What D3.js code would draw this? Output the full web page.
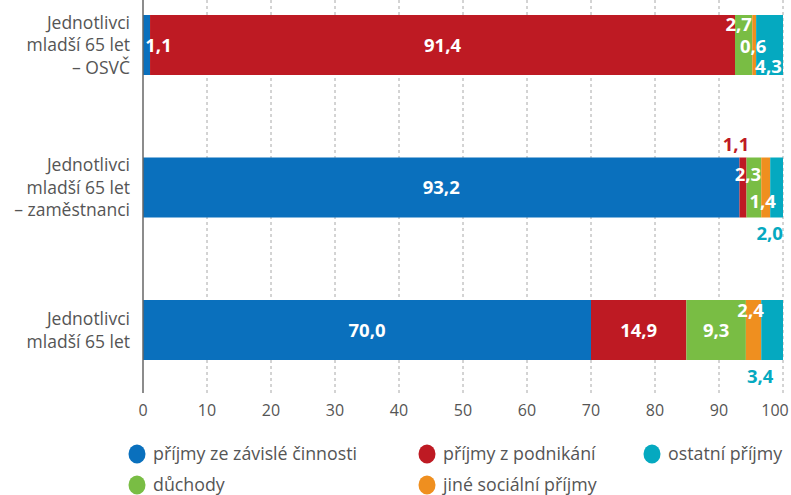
<!DOCTYPE html>
<html>
<head>
<meta charset="utf-8">
<script src="https://d3js.org/d3.v7.min.js"></script>
<style>
  body { margin: 0; background: #fff; }
  text { font-family: "Open Sans", sans-serif; }
</style>
</head>
<body>
<script>

// categories (top to bottom) and series
const categories = [
  ["Jednotlivci", "mladší 65 let", "– OSVČ"],
  ["Jednotlivci", "mladší 65 let", "– zaměstnanci"],
  ["Jednotlivci", "mladší 65 let"]
];
const seriesNames = ["příjmy ze závislé činnosti", "příjmy z podnikání", "důchody", "jiné sociální příjmy", "ostatní příjmy"];
const zavisla   = [1.1, 93.2, 70.0];
const podnikani = [91.4, 1.1, 14.9];
const duchody   = [2.7, 2.3, 9.3];
const jineSoc   = [0.6, 1.4, 2.4];
const ostatni   = [4.3, 2.0, 3.4];
const ticks = [0, 10, 20, 30, 40, 50, 60, 70, 80, 90, 100];

const colors = ["#0a70bd", "#be1a23", "#79bd44", "#ef8f1f", "#05a9c0"];

// label placement for the small segments: [dx, dy, inside/outside] relative to segment centre / bar centre
const labelPlace = [
  [[12, 0, "in"], [0, 0, "in"], [-5, -21, "in"], [-1, 1, "in"], [-1, 21, "in"]],
  [[0, 0, "in"], [-7, -43, "out"], [-6, -13, "in"], [-3, 14, "in"], [-7, 46, "out"]],
  [[0, 0, "in"], [0, 0, "in"], [0, 0, "in"], [-3, -20, "in"], [-12, 46, "out"]]
];

const width = 791, height = 495;
const svg = d3.select("body").append("svg")
  .attr("width", width).attr("height", height);

const x = d3.scaleLinear().domain([0, 100]).range([143, 783]);
const y = d3.scalePoint().domain(d3.range(categories.length)).range([45, 330]);
const barH = 60;
const plotTop = 0, plotBottom = 393;

// gridlines
svg.append("g").selectAll("line")
  .data(ticks.slice(1))
  .join("line")
  .attr("x1", d => x(d)).attr("x2", d => x(d))
  .attr("y1", plotTop).attr("y2", plotBottom)
  .attr("stroke", "#a8a8a8")
  .attr("stroke-dasharray", "3,3");

// tick labels
svg.append("g").selectAll("text")
  .data(ticks)
  .join("text")
  .attr("x", d => Math.min(x(d), 775)).attr("y", 416)
  .attr("text-anchor", "middle")
  .attr("fill", "#555")
  .attr("font-size", 16)
  .text(d => d);

// stacked data
const rows = categories.map((c, i) => [zavisla[i], podnikani[i], duchody[i], jineSoc[i], ostatni[i]]);

const bars = svg.append("g");
rows.forEach((vals, i) => {
  let acc = 0;
  const segs = vals.map((v, j) => { const s = {i, j, v, x0: acc, x1: acc + v}; acc += v; return s; });
  bars.append("g").selectAll("rect")
    .data(segs)
    .join("rect")
    .attr("x", d => x(d.x0))
    .attr("width", d => Math.max(0, x(Math.min(d.x1, 100)) - x(d.x0)))
    .attr("y", y(i) - barH / 2)
    .attr("height", barH)
    .attr("fill", d => colors[d.j]);

  bars.append("g").selectAll("text")
    .data(segs)
    .join("text")
    .attr("x", d => x((d.x0 + Math.min(d.x1, 100)) / 2) + labelPlace[i][d.j][0])
    .attr("y", d => y(i) + labelPlace[i][d.j][1])
    .attr("dy", "0.36em")
    .attr("text-anchor", "middle")
    .attr("font-size", 18.5)
    .attr("font-weight", "bold")
    .attr("fill", d => labelPlace[i][d.j][2] === "in" ? "#fff" : colors[d.j])
    .text(d => d.v.toFixed(1).replace(".", ","));
});

// axis line
svg.append("line")
  .attr("x1", x(0)).attr("x2", x(0))
  .attr("y1", plotTop).attr("y2", plotBottom)
  .attr("stroke", "#666").attr("stroke-width", 1.5);

// category labels
categories.forEach((lines, i) => {
  const t = svg.append("text")
    .attr("text-anchor", "end")
    .attr("fill", "#555")
    .attr("font-size", 17.5);
  const lh = 22.5;
  lines.forEach((l, k) => {
    t.append("tspan")
      .attr("x", 130)
      .attr("y", y(i) + (k - (lines.length - 1) / 2) * lh)
      .attr("dy", "0.36em")
      .text(l);
  });
});

// legend
const legendPos = [[137, 454], [427, 454], [137, 485], [427, 485], [652, 454]];
const legend = svg.append("g").selectAll("g")
  .data(seriesNames)
  .join("g")
  .attr("transform", (d, j) => `translate(${legendPos[j][0]},${legendPos[j][1]})`);
legend.append("ellipse")
  .attr("rx", 8.5).attr("ry", 9.5)
  .attr("fill", (d, j) => colors[j]);
legend.append("text")
  .attr("x", 16).attr("dy", "0.36em")
  .attr("fill", "#555")
  .attr("font-size", 17.8)
  .text(d => d);

</script>
</body>
</html>
